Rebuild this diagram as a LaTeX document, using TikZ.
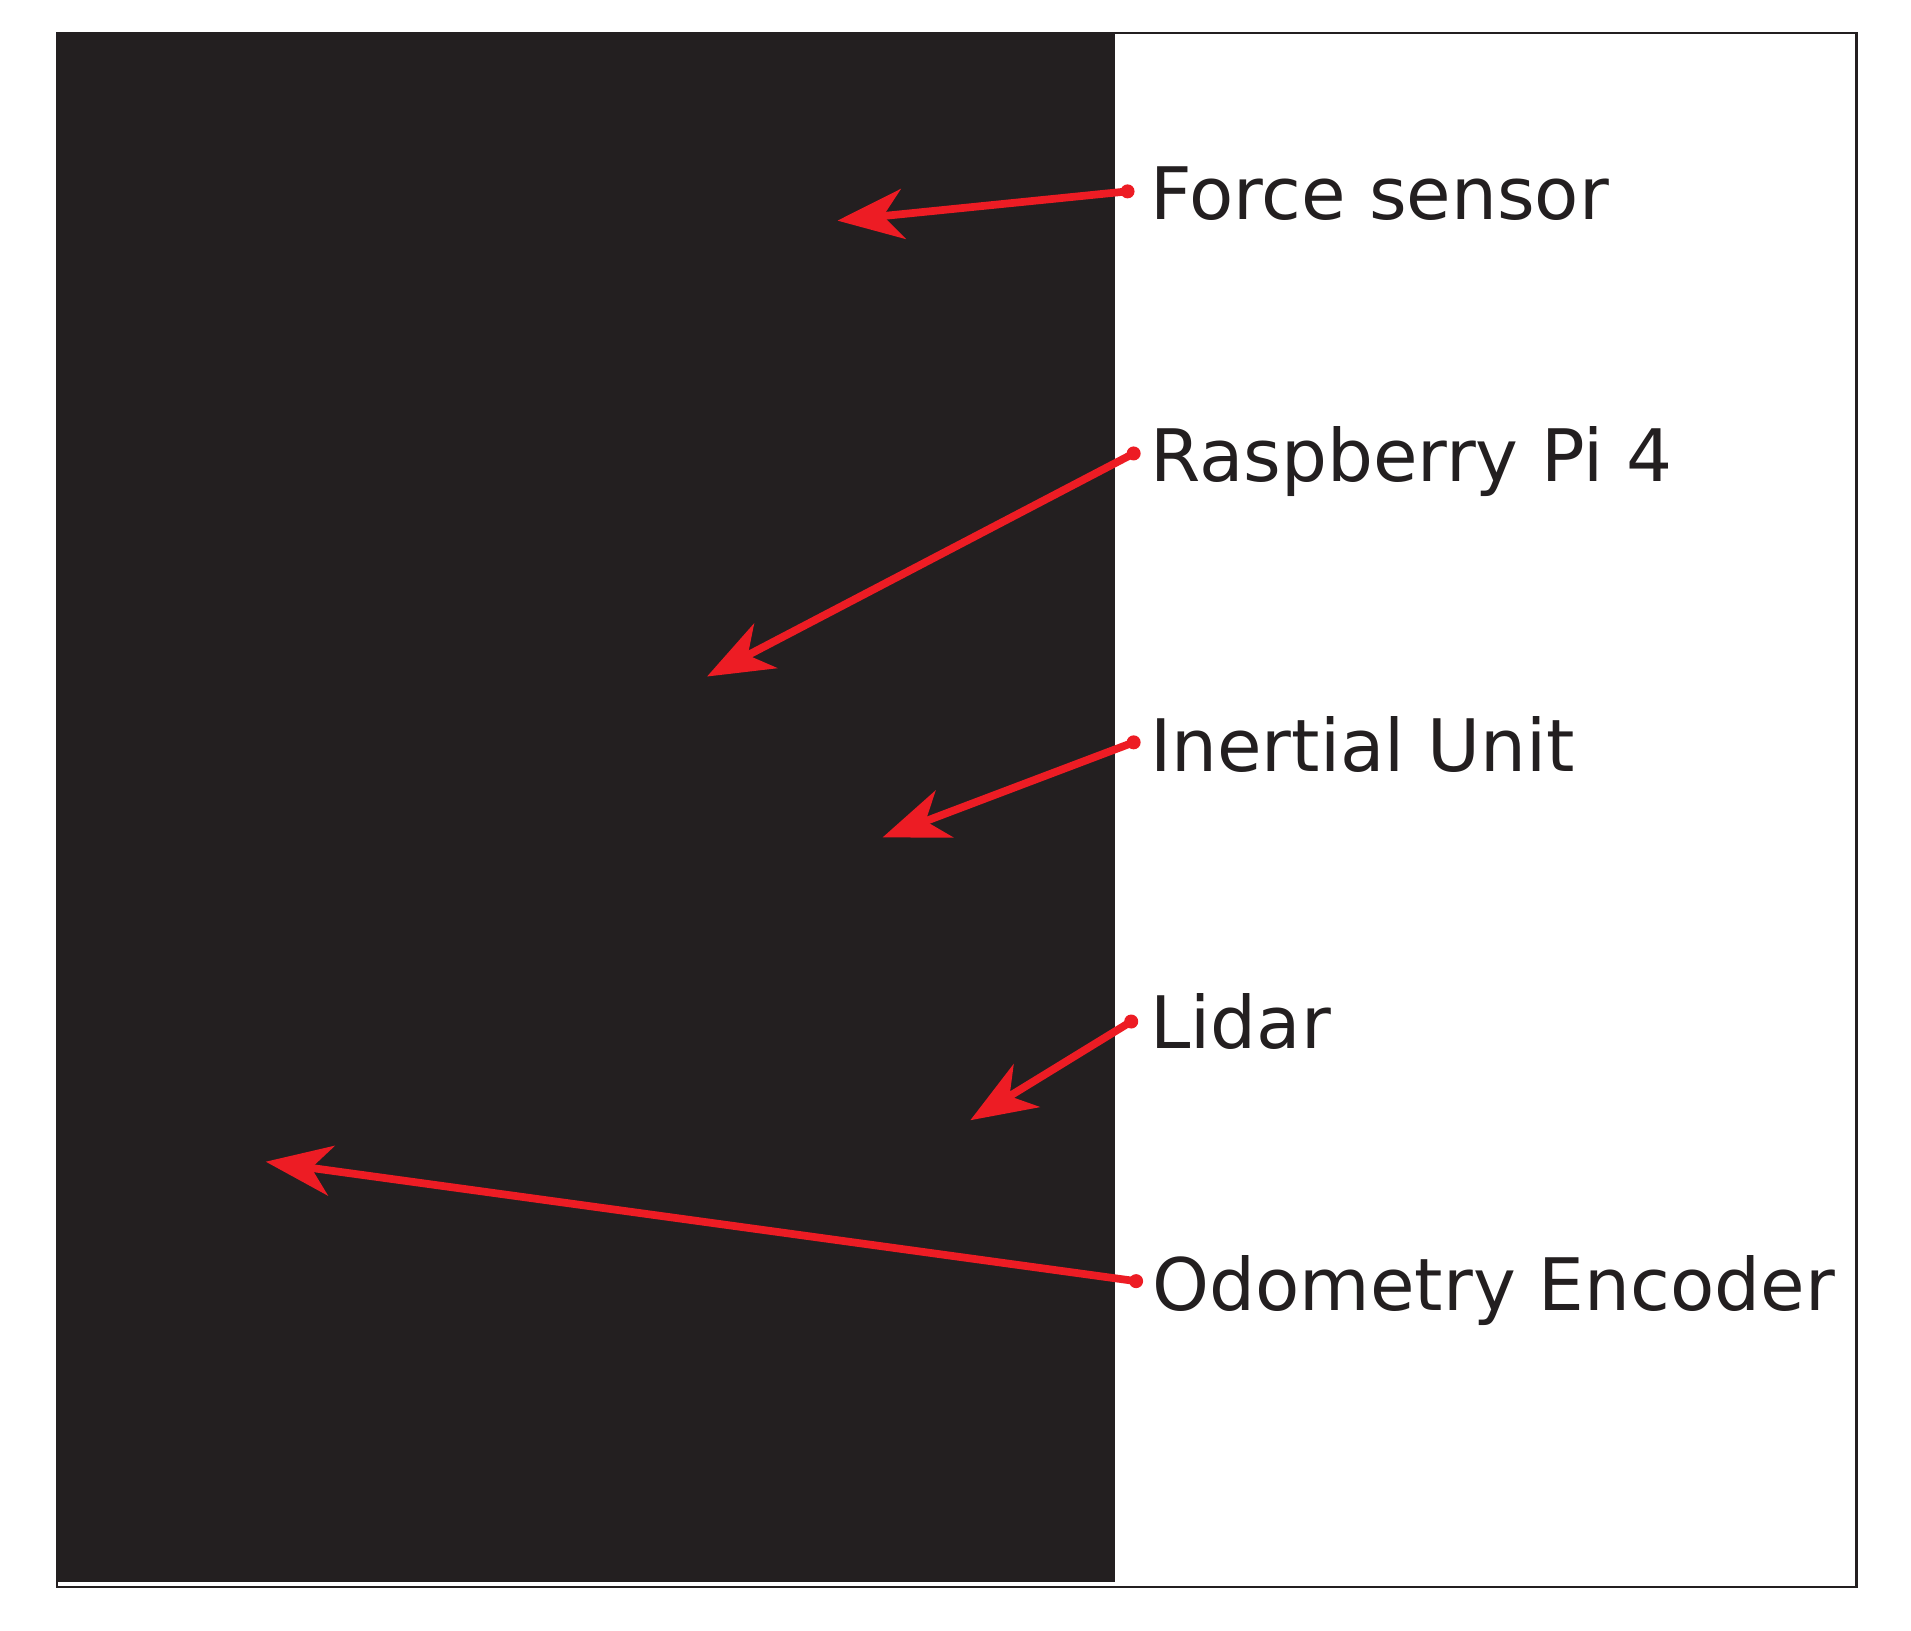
\documentclass[tikz,border=0pt]{standalone}
\usepackage{fontspec}
\setmainfont{DejaVu Sans}
\usetikzlibrary{arrows.meta}
\definecolor{dk}{RGB}{35,31,32}
\definecolor{rd}{RGB}{237,28,36}
\tikzset{lbl/.style={anchor=base west,inner sep=0pt,text=dk,font=\fontsize{20.6}{24}\selectfont},
 pt/.style={circle,fill=rd,inner sep=0pt,minimum size=0.14cm},
 arr/.style={rd,line width=2.2pt,-{Stealth[length=0.66cm,width=0.5cm,inset=0.2cm]}}}
\begin{document}
\begin{tikzpicture}[x=0.01219cm,y=-0.01219cm]
\useasboundingbox (0,0) rectangle (1567.7,1337.2);
\fill[white] (0,0) rectangle (1567.7,1337.2);
\fill[dk] (47,27) rectangle (915,1298);
\draw[dk,line width=0.6pt] (47,27) rectangle (1523,1302);
\node[lbl] (t1) at (943,180) {Force sensor};
\node[lbl] (t2) at (943,395) {Raspberry Pi 4};
\node[lbl] (t3) at (943,633) {Inertial Unit};
\node[lbl] (t4) at (943,860) {Lidar};
\node[lbl] (t5) at (945,1075) {Odometry Encoder};
\node[pt] (p1) at (925,157) {};
\node[pt] (p2) at (930,372) {};
\node[pt] (p3) at (930,609) {};
\node[pt] (p4) at (928,838) {};
\node[pt] (p5) at (932,1051) {};
\coordinate (e1) at (687,181);
\coordinate (e2) at (580,555);
\coordinate (e3) at (724,687);
\coordinate (e4) at (796,919);
\coordinate (e5) at (218,953);
\foreach \i in {1,...,5} \draw[arr] (p\i.center) -- (e\i);
\end{tikzpicture}
\end{document}
